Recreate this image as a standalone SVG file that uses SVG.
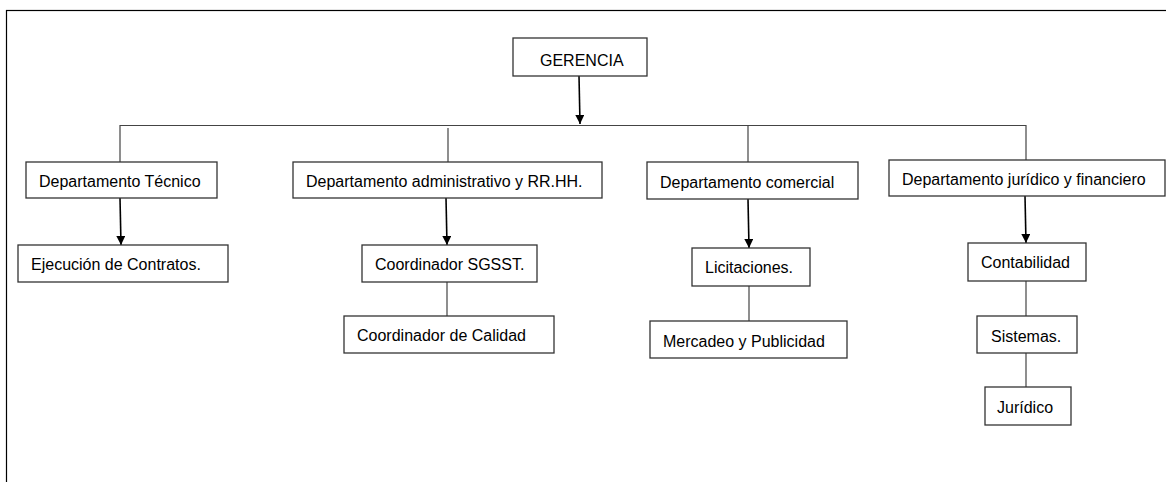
<svg xmlns="http://www.w3.org/2000/svg" width="1166" height="482" viewBox="0 0 1166 482">
<style>
.box{fill:#fff;stroke:#333;stroke-width:1.3}
.t{font-family:"Liberation Sans",Arial,sans-serif;font-size:16px;fill:#000}
.ln{stroke:#444;stroke-width:1.2;fill:none}
.ar{stroke:#000;stroke-width:1.6;fill:none;marker-end:url(#ah)}
</style>
<defs>
<marker id="ah" viewBox="0 0 10 10" refX="10" refY="5" markerWidth="9" markerHeight="9" markerUnits="userSpaceOnUse" orient="auto">
<path d="M0,0 L10,5 L0,10 Z" fill="#000"/>
</marker>
</defs>
<rect x="6.5" y="10.5" width="1170" height="480" fill="#fff" stroke="#000" stroke-width="1.2"/>
<g id="connectors">
<line class="ar" x1="579" y1="76" x2="580" y2="124"/>
<polyline class="ln" points="120,162 120,125.5 1026,125.5 1026,160"/>
<line class="ln" x1="448" y1="128" x2="448" y2="162"/>
<line class="ln" x1="748" y1="125" x2="748" y2="162"/>
<line class="ar" x1="120" y1="198" x2="121" y2="245"/>
<line class="ar" x1="446" y1="198" x2="447" y2="245"/>
<line class="ln" x1="447" y1="282" x2="447" y2="316"/>
<line class="ar" x1="748" y1="199" x2="749" y2="248"/>
<line class="ln" x1="749" y1="286" x2="749" y2="321"/>
<line class="ar" x1="1025" y1="196" x2="1026" y2="243"/>
<line class="ln" x1="1026" y1="281" x2="1026" y2="316"/>
<line class="ln" x1="1026" y1="353" x2="1026" y2="387"/>
</g>
<g id="gerencia"><rect class="box" x="513" y="38" width="134" height="38"/><text class="t" x="540" y="66">GERENCIA</text></g>
<g id="dep-tecnico"><rect class="box" x="26" y="162" width="191" height="36"/><text class="t" x="39" y="187">Departamento Técnico</text></g>
<g id="dep-admin"><rect class="box" x="293" y="162" width="309" height="36"/><text class="t" x="306" y="187">Departamento administrativo y RR.HH.</text></g>
<g id="dep-comercial"><rect class="box" x="647" y="162" width="211" height="37"/><text class="t" x="660" y="188">Departamento comercial</text></g>
<g id="dep-juridico"><rect class="box" x="889" y="160" width="276" height="36"/><text class="t" x="902" y="185">Departamento jurídico y financiero</text></g>
<g id="ejecucion"><rect class="box" x="18" y="245" width="210" height="37"/><text class="t" x="31" y="270">Ejecución de Contratos.</text></g>
<g id="sgsst"><rect class="box" x="362" y="245" width="175" height="37"/><text class="t" x="375" y="270">Coordinador SGSST.</text></g>
<g id="calidad"><rect class="box" x="344" y="316" width="210" height="37"/><text class="t" x="357" y="341">Coordinador de Calidad</text></g>
<g id="licitaciones"><rect class="box" x="692" y="248" width="118" height="38"/><text class="t" x="705" y="273">Licitaciones.</text></g>
<g id="mercadeo"><rect class="box" x="650" y="321" width="197" height="37"/><text class="t" x="663" y="347">Mercadeo y Publicidad</text></g>
<g id="contabilidad"><rect class="box" x="968" y="243" width="118" height="38"/><text class="t" x="981" y="268">Contabilidad</text></g>
<g id="sistemas"><rect class="box" x="977" y="316" width="100" height="37"/><text class="t" x="991" y="342">Sistemas.</text></g>
<g id="juridico"><rect class="box" x="985" y="387" width="86" height="38"/><text class="t" x="997" y="413">Jurídico</text></g>
</svg>
